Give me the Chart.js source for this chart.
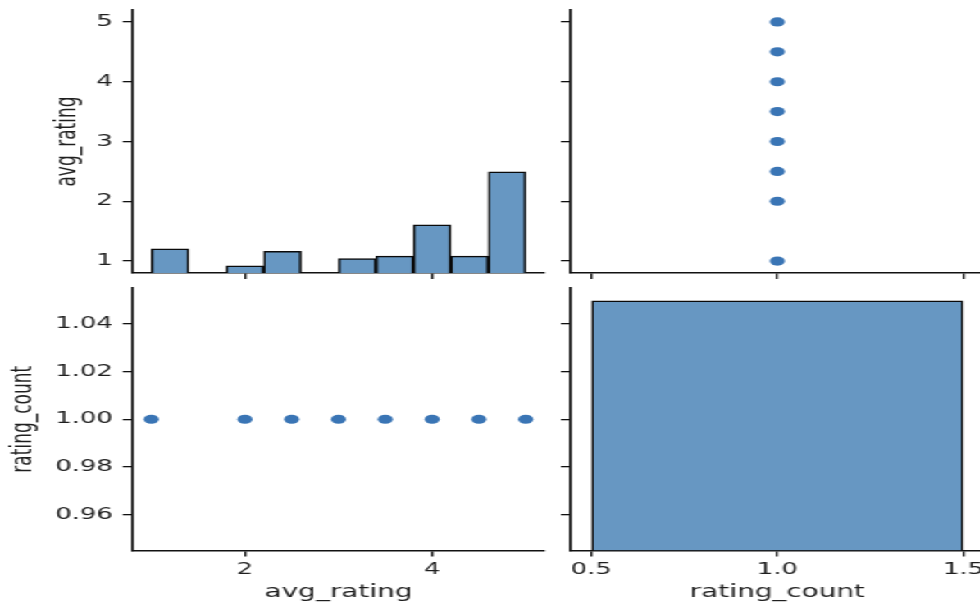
<!DOCTYPE html>
<html>
<head>
  <title>avg_rating / rating_count pair plot</title>
  <script src="https://cdn.jsdelivr.net/npm/chart.js"></script>
  <style>
    html, body { margin: 0; background: #fff; overflow: hidden; width: 980px; height: 604px; }
    /* the reference figure is stretched sideways, so draw at 980/1.64 wide and scale up */
    #fig { position: absolute; left: 0; top: 0; width: 598px; height: 604px; overflow: hidden; transform: scaleX(1.64); transform-origin: 0 0; }
    .panel { position: absolute; }
    #p11 { left: 0; top: -10px; width: 342px; height: 303px; }
    #p12 { left: 327.6px; top: -10px; width: 282px; height: 303px; }
    #p21 { left: 0; top: 268.3px; width: 342px; height: 336px; }
    #p22 { left: 327.6px; top: 268.3px; width: 282px; height: 336px; }
  </style>
</head>
<body>
  <div id="fig">
    <div class="panel" id="p11"><canvas id="c11"></canvas></div>
    <div class="panel" id="p12"><canvas id="c12"></canvas></div>
    <div class="panel" id="p21"><canvas id="c21"></canvas></div>
    <div class="panel" id="p22"><canvas id="c22"></canvas></div>
  </div>

  <script>
    // scatter points (avg_rating, rating_count)
    const avgRating   = [1, 2, 2.5, 3, 3.5, 4, 4.5, 5];
    const ratingCount = [1, 1, 1, 1, 1, 1, 1, 1];

    // diagonal histograms (bin centres and counts)
    const avgBins    = [1.2, 1.6, 2.0, 2.4, 2.8, 3.2, 3.6, 4.0, 4.4, 4.8];
    const avgHist    = [10, 0, 3, 9, 0, 6, 7, 20, 7, 42];
    const countBins  = [1.0];
    const countHist  = [104];

    // tick labels
    const avgTicks      = [1, 2, 3, 4, 5];
    const avgXTicks     = [2, 4];
    const countTicks    = [0.96, 0.98, 1.00, 1.02, 1.04];
    const countXTicks   = [0.5, 1.0, 1.5];

    const FONT = 'DejaVu Sans';
    const INK = '#1f1f1f';
    const BAR = '#6797c2';
    const DOT = '#3a75b5';
    // diag axes share their count scale
    const countMax = 1.05 * Math.max(...avgHist, ...countHist);

    function axis(o) {
      const a = {
        type: 'linear', offset: false, min: o.min, max: o.max,
        afterBuildTicks: s => { s.ticks = o.ticks.map(v => ({ value: v })); },
        afterFit: s => { if (o.w) s.width = o.w; if (o.h) s.height = o.h; },
        border: { color: '#111', width: 1.6 },
        grid: { drawOnChartArea: false, offset: false, color: '#111', lineWidth: 1.3, tickLength: 6 },
        ticks: { display: false, color: INK, padding: o.pad || 3, font: { family: FONT, size: 15.8 } },
        title: { display: false }
      };
      if (o.fmt) { a.ticks.display = true; a.ticks.callback = o.fmt; }
      if (o.title) a.title = { display: true, text: o.title, color: INK, font: { family: FONT, size: 17 }, padding: o.titlePad };
      return a;
    }

    const hidden = { display: false, min: 0, max: countMax };
    const common = {
      responsive: true, maintainAspectRatio: false, animation: false,
      layout: { padding: { top: 20, right: 10, bottom: 0, left: 0 } },
      plugins: { legend: { display: false }, tooltip: { enabled: false } }
    };
    const histSet = (bins, counts, pct) => ({
      data: bins.map((b, i) => ({ x: b, y: counts[i] })), yAxisID: 'y2',
      backgroundColor: BAR, borderColor: '#0a0a0a', borderWidth: 1.5,
      categoryPercentage: 1, barPercentage: pct
    });
    const dotSet = (xs, ys) => ({
      data: xs.map((x, i) => ({ x: x, y: ys[i] })),
      backgroundColor: DOT, borderWidth: 0, pointRadius: 4.6
    });

    const fmtInt = v => String(v);
    const fmt1 = v => v.toFixed(1);
    const fmt2 = v => v.toFixed(2);

    // top-left: avg_rating histogram
    new Chart(document.getElementById('c11'), {
      type: 'bar',
      data: { datasets: [histSet(avgBins, avgHist, 1)] },
      options: { ...common, scales: {
        x: axis({ min: 0.8, max: 5.2, ticks: avgXTicks, h: 20 }),
        y: axis({ min: 0.8, max: 5.2, ticks: avgTicks, w: 80.85, pad: 6, fmt: fmtInt, title: 'avg_rating', titlePad: { top: 31.5, bottom: 0 } }),
        y2: hidden
      } }
    });

    // top-right: avg_rating vs rating_count
    new Chart(document.getElementById('c12'), {
      type: 'scatter',
      data: { datasets: [dotSet(ratingCount, avgRating)] },
      options: { ...common, scales: {
        x: axis({ min: 0.445, max: 1.555, ticks: countXTicks, h: 20 }),
        y: axis({ min: 0.8, max: 5.2, ticks: avgTicks, w: 20 })
      } }
    });

    // bottom-left: rating_count vs avg_rating
    new Chart(document.getElementById('c21'), {
      type: 'scatter',
      data: { datasets: [dotSet(avgRating, ratingCount)] },
      options: { ...common, scales: {
        x: axis({ min: 0.8, max: 5.2, ticks: avgXTicks, h: 53.5, pad: 4, fmt: fmtInt, title: 'avg_rating', titlePad: { top: 0, bottom: 1 } }),
        y: axis({ min: 0.945, max: 1.055, ticks: countTicks, w: 80.85, pad: 6, fmt: fmt2, title: 'rating_count', titlePad: { top: 4.8, bottom: 0 } })
      } }
    });

    // bottom-right: rating_count histogram (one bin 0.5-1.5, ticks are 0.5 apart)
    new Chart(document.getElementById('c22'), {
      type: 'bar',
      data: { datasets: [histSet(countBins, countHist, 2)] },
      options: { ...common, scales: {
        x: axis({ min: 0.445, max: 1.555, ticks: countXTicks, h: 53.5, pad: 4, fmt: fmt1, title: 'rating_count', titlePad: { top: 0, bottom: 1 } }),
        y: axis({ min: 0.945, max: 1.055, ticks: countTicks, w: 20 }),
        y2: hidden
      } }
    });
  </script>
</body>
</html>
